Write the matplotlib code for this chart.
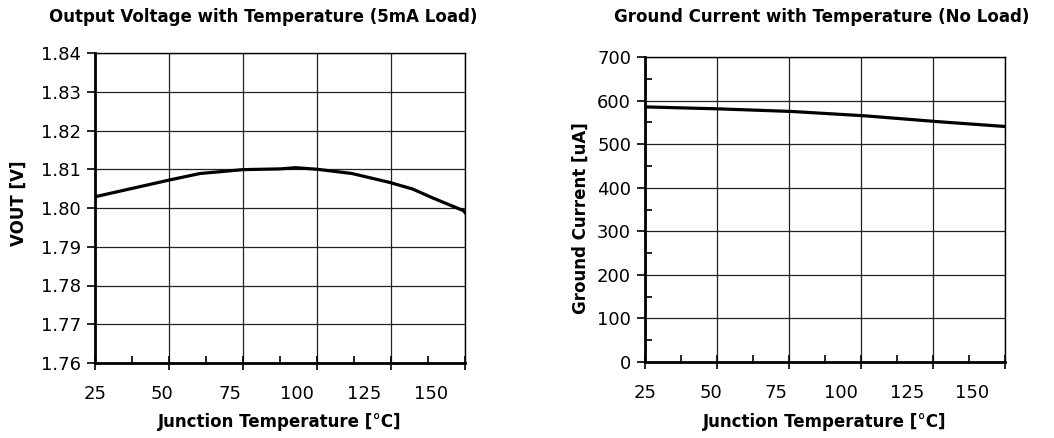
import matplotlib
matplotlib.use("Agg")
import matplotlib.pyplot as plt
from matplotlib.ticker import FixedLocator, NullFormatter

plt.rcParams['font.family'] = ['DejaVu Sans']

# ---- data ----
temp_v = [25, 52.5, 64, 80, 94, 99.5, 107.5, 120.5, 134.5, 143, 150.5, 162, 162.5]
vout = [1.8029, 1.8072, 1.8089, 1.8099, 1.8101, 1.8104, 1.8100, 1.8089, 1.8066, 1.8049, 1.8026, 1.7993, 1.7988]

temp_i = [25, 53, 81, 109, 136, 162.5]
ignd = [585.5, 581, 575, 565, 552, 540.5]

x_tick_labels = [25, 50, 75, 100, 125, 150]
x_grid = [25, 52.5, 80, 107.5, 135, 162.5]
v_ticks = [1.76, 1.77, 1.78, 1.79, 1.80, 1.81, 1.82, 1.83, 1.84]
i_ticks = [0, 100, 200, 300, 400, 500, 600, 700]

titles = ["Output Voltage with Temperature (5mA Load)",
          "Ground Current with Temperature (No Load)"]
ylabels = ["VOUT [V]", "Ground Current [uA]"]
xlabel = "Junction Temperature [°C]"

W, H = 1054, 438
fig = plt.figure(figsize=(W / 100, H / 100), dpi=100)

def px_axes(x0, x1, y0, y1):
    return fig.add_axes([x0 / W, 1 - y1 / H, (x1 - x0) / W, (y1 - y0) / H])

ax1 = px_axes(95, 465, 53, 363)
ax2 = px_axes(645, 1005, 57, 362)

FS = 13
FSB = 12

def style(ax, yt, ylim, ylab, ylab_xy, xlab_y, yminor=None):
    ax.set_xlim(x_grid[0], x_grid[-1])
    ax.set_ylim(*ylim)
    ax.xaxis.set_major_locator(FixedLocator(x_grid))
    ax.xaxis.set_major_formatter(NullFormatter())
    mids = [(a + b) / 2 for a, b in zip(x_grid[:-1], x_grid[1:])]
    ax.xaxis.set_minor_locator(FixedLocator(mids))
    ax.set_yticks(yt)
    ax.set_yticklabels([("%.2f" % v) if isinstance(v, float) else str(v) for v in yt])
    if yminor is not None:
        ax.yaxis.set_minor_locator(FixedLocator(yminor))
        ax.tick_params(axis='y', which='minor', direction='in', length=5, width=1.2, color='black')
    ax.tick_params(axis='x', which='major', direction='inout', length=10, width=1.2, color='black')
    ax.tick_params(axis='x', which='minor', direction='in', length=5, width=1.2, color='black')
    ax.tick_params(axis='y', which='major', direction='out', length=6, width=1.2,
                   color='black', labelsize=FS, pad=4)
    ax.grid(True, which='major', color='#222222', linewidth=0.9)
    ax.set_axisbelow(True)
    for s in ['left', 'bottom']:
        ax.spines[s].set_linewidth(2.0)
    for s in ['top', 'right']:
        ax.spines[s].set_linewidth(1.0)
    for lab in x_tick_labels:
        ax.annotate(str(lab), xy=(lab, 0), xycoords=('data', 'axes fraction'),
                    xytext=(0, -22), textcoords='offset pixels',
                    ha='center', va='top', fontsize=FS)
    ax.set_ylabel(ylab, fontsize=FSB, fontweight='bold')
    ax.yaxis.set_label_coords(*ylab_xy)
    ax.set_xlabel(xlabel, fontsize=FSB, fontweight='bold')
    ax.xaxis.set_label_coords(0.5, xlab_y)

style(ax1, v_ticks, (1.76, 1.84), ylabels[0], (-0.181, 0.516), -0.161)
ax1.plot(temp_v, vout, color='black', linewidth=2.3, solid_joinstyle='round')

i_minor = [50, 150, 250, 350, 450, 550, 650]
style(ax2, i_ticks, (0, 700), ylabels[1], (-0.153, 0.472), -0.167, yminor=i_minor)
ax2.plot(temp_i, ignd, color='black', linewidth=2.3, solid_joinstyle='round')

fig.text(263 / W, 1 - 17 / H, titles[0], ha='center', va='center', fontsize=FSB, fontweight='bold')
fig.text(822 / W, 1 - 17 / H, titles[1], ha='center', va='center', fontsize=FSB, fontweight='bold')

fig.savefig("out.png", dpi=100)
